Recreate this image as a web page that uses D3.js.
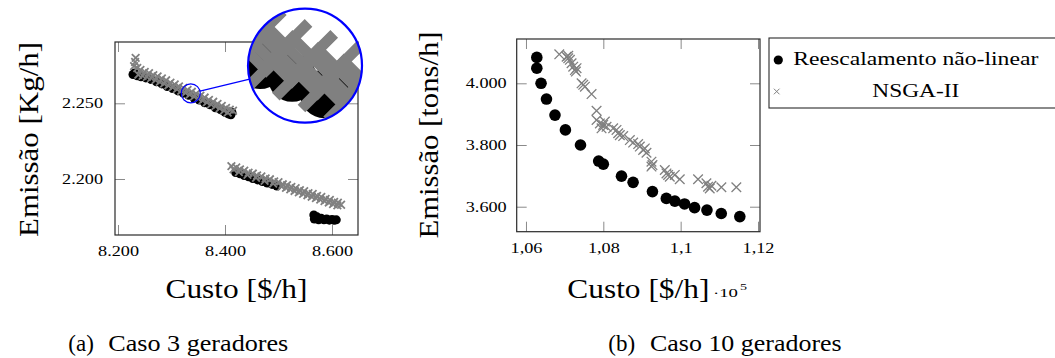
<!DOCTYPE html>
<html><head><meta charset="utf-8">
<script src="https://cdn.jsdelivr.net/npm/d3@7"></script>
<style>
body{margin:0;background:#fff}
svg{display:block}
svg text{font-family:"Liberation Serif","DejaVu Serif","Noto Serif","Times New Roman",serif;fill:#000}
</style>
</head><body><svg id="c" width="1055" height="358"></svg>
<script>
// ---------------- DATA ----------------
// (a) Caso 3 geradores : [Custo $/h, Emissão Kg/h]
const caseA_rescale = [
  [8231,2270.0],[8228,2269.0],[8236,2268.2],[8243,2267.5],[8252,2266.8],[8262,2265.7],[8272,2264.2],
  [8282,2262.8],[8292,2261.1],[8302,2259.8],[8312,2258.2],[8322,2256.7],[8332,2255.3],[8342,2253.5],
  [8352,2252.2],[8362,2250.4],[8372,2249.0],[8382,2247.1],[8392,2245.7],[8400,2244.0],[8406,2243.0],
  [8411,2242.4],[8413,2244.0],
  [8420,2204.3],[8428,2203.4],[8436,2202.3],[8444,2201.5],[8452,2200.3],[8461,2199.4],[8470,2198.3],
  [8479,2197.3],[8488,2196.4],[8497,2195.3],
  [8566,2176.2],[8567,2173.6],[8572,2175.0],[8575,2173.1],[8580,2174.0],[8585,2173.0],[8590,2173.6],
  [8595,2172.8],[8600,2173.3],[8604,2172.7],[8608,2173.0]
];
const caseA_nsga = [
  [8233,2280.0],[8232,2277.3],[8230,2274.6],[8236,2273.3],[8242,2272.1],[8250,2270.8],[8258,2269.9],
  [8266,2268.6],[8274,2267.8],[8282,2266.4],[8290,2265.2],[8298,2263.6],[8306,2262.4],[8314,2261.1],
  [8322,2260.1],[8330,2258.8],[8338,2257.6],[8346,2256.3],[8354,2255.0],[8362,2253.8],[8370,2252.3],
  [8378,2251.0],[8386,2249.6],[8394,2248.2],[8402,2247.0],[8409,2245.8],[8415,2245.1],
  [8238,2268.9],[8246,2268.2],[8254,2267.5],[8262,2266.7],[8270,2265.4],[8278,2264.2],[8286,2263.0],
  [8294,2261.8],[8302,2260.6],[8310,2259.4],[8318,2258.2],[8326,2257.0],[8334,2255.7],[8342,2254.4],
  [8350,2253.1],[8358,2251.9],[8366,2250.6],[8374,2249.3],[8382,2248.1],[8390,2246.7],[8398,2245.2],
  [8405,2243.9],
  [8412,2208.5],[8416,2206.4],[8421,2207.6],[8428,2206.3],[8436,2205.5],[8444,2204.1],[8452,2203.6],
  [8460,2202.3],[8468,2201.7],[8476,2200.4],[8484,2199.8],[8492,2198.4],[8500,2197.9],[8508,2196.5],
  [8516,2195.9],[8524,2194.7],[8532,2193.9],[8540,2192.6],[8548,2192.0],[8556,2190.7],[8564,2190.1],
  [8572,2188.8],[8580,2188.1],[8588,2186.9],[8596,2186.2],[8604,2184.9],[8611,2184.3],[8617,2183.0],
  [8426,2204.6],[8442,2202.7],[8458,2200.8],[8474,2198.8],[8490,2196.9],[8506,2195.0],[8514,2194.1],
  [8522,2193.1],[8530,2192.1],[8538,2191.2],[8546,2190.2],[8554,2189.3],[8562,2188.3],[8570,2187.4],
  [8578,2186.4],[8586,2185.4],[8594,2184.5],[8602,2183.5],[8610,2182.6]
];
const caseA_xTicks = [8200, 8400, 8600];
const caseA_yTicks = [2200, 2250];
const caseA_spyPoint = [8336, 2256.6];

// (b) Caso 10 geradores : [Custo $/h, Emissão tons/h]
const caseB_rescale = [
  [106280,4084],[106280,4049],[106390,4000],[106530,3949],[106750,3897],[107020,3849],[107410,3800],
  [107880,3748],[108000,3738],[108470,3699],[108770,3679],[109270,3649],[109630,3627],[109850,3618],
  [110100,3609],[110360,3597],[110680,3589],[111050,3578],[111530,3568]
];
const caseB_nsga = [
  [106861,4094],[107050,4086],[107093,4081],[107136,4076],[107093,4089],[107179,4065],[107222,4054],
  [107265,4043],[107308,4049],[107291,4038],[107438,4000],[107481,3995],[107524,3989],[107696,3965],
  [107825,3911],[107825,3881],[107911,3870],[107997,3865],[108083,3859],[108040,3876],[107954,3854],
  [108255,3854],[108341,3849],[108384,3838],[108427,3832],[108514,3829],[108686,3816],[108772,3808],
  [108901,3803],[108944,3795],[109030,3784],[109116,3775],[109073,3789],[109245,3746],[109271,3735],
  [109245,3730],[109590,3719],[109633,3708],[109676,3703],[109719,3697],[109848,3703],[109977,3689],
  [110450,3689],[110666,3676],[110709,3665],[110752,3659],[110795,3668],[111053,3663],[111440,3663]
];
const caseB_xTicks = [106000, 108000, 110000, 112000];
const caseB_yTicks = [3600, 3800, 4000];

const legendLabels = ["Reescalamento não-linear", "NSGA-II"];
const xLabel = "Custo [$/h]";
const yLabelA = "Emissão [Kg/h]";
const yLabelB = "Emissão [tons/h]";
const captionTags = ["(a)", "(b)"];
const captionTexts = ["Caso 3 geradores", "Caso 10 geradores"];

// ---------------- DRAWING ----------------
const svg = d3.select("#c");
const loc = d3.formatLocale({decimal: ",", thousands: ".", grouping: [3], currency: ["", ""]});
const fmtThousands = loc.format(",");
const fmtB = v => loc.format(".3~r")(v / 1e5);

function stretch(f) {
  return function() {
    const L = this.getComputedTextLength();
    this.setAttribute("textLength", (L * f).toFixed(2));
    this.setAttribute("lengthAdjust", "spacingAndGlyphs");
  };
}
function fitText(sel, len) {
  sel.attr("textLength", len).attr("lengthAdjust", "spacingAndGlyphs");
}

function frameAxes(g, x, y, xt, yt, xfmt, yfmt, padX, padY) {
  const [x0, x1] = x.range(), [y0, y1] = y.range();
  const style = (a, labels) => {
    a.attr("font-family", null).attr("font-size", null);
    a.select(".domain").remove();
    a.selectAll(".tick line").attr("stroke", "#8a8a8a").attr("stroke-width", 1);
    if (labels) a.selectAll("text").attr("font-size", 14).attr("fill", "#000").each(stretch(1.3));
    else a.selectAll("text").remove();
  };
  g.append("g").attr("transform", `translate(0,${y0})`)
    .call(d3.axisBottom(x).tickValues(xt).tickSizeInner(-10).tickSizeOuter(0).tickPadding(padX).tickFormat(xfmt))
    .call(a => style(a, true));
  g.append("g").attr("transform", `translate(0,${y1})`)
    .call(d3.axisTop(x).tickValues(xt).tickSizeInner(-10).tickSizeOuter(0).tickFormat(() => ""))
    .call(a => style(a, false));
  g.append("g").attr("transform", `translate(${x0},0)`)
    .call(d3.axisLeft(y).tickValues(yt).tickSizeInner(-10).tickSizeOuter(0).tickPadding(padY).tickFormat(yfmt))
    .call(a => style(a, true));
  g.append("g").attr("transform", `translate(${x1},0)`)
    .call(d3.axisRight(y).tickValues(yt).tickSizeInner(-10).tickSizeOuter(0).tickFormat(() => ""))
    .call(a => style(a, false));
  g.append("rect").attr("x", x0).attr("y", y1).attr("width", x1 - x0).attr("height", y0 - y1)
    .attr("fill", "none").attr("stroke", "#2a2a2a").attr("stroke-width", 1.2);
}

function crossPath(cx, cy, h) {
  return `M${cx - h},${cy - h}L${cx + h},${cy + h}M${cx - h},${cy + h}L${cx + h},${cy - h}`;
}
function drawMarks(g, circles, crosses, px, py, r, h, sw) {
  g.append("g").selectAll("circle").data(circles).join("circle")
    .attr("cx", d => px(d[0])).attr("cy", d => py(d[1])).attr("r", r).attr("fill", "#000");
  g.append("g").selectAll("path").data(crosses).join("path")
    .attr("d", d => crossPath(px(d[0]), py(d[1]), h))
    .attr("fill", "none").attr("stroke", "#808080").attr("stroke-width", sw);
}

// ---------- Plot (a) ----------
const xA = d3.scaleLinear().domain([8194.4, 8648.6]).range([115, 358]);
const yA = d3.scaleLinear().domain([2163, 2290.5]).range([235, 42]);
const gA = svg.append("g");
const markA = {r: 4.5, h: 3.8, sw: 1.8};
frameAxes(gA, xA, yA, caseA_xTicks, caseA_yTicks, fmtThousands, fmtThousands, 11, 12);
drawMarks(gA, caseA_rescale, caseA_nsga, xA, yA, markA.r, markA.h, markA.sw);

const midA = (xA.range()[0] + xA.range()[1]) / 2;
svg.append("text").attr("x", midA).attr("y", 298).attr("text-anchor", "middle")
  .attr("font-size", 28).text(xLabel).call(fitText, 142);
svg.append("text").attr("transform", `translate(37.5,139.5) rotate(-90)`).attr("text-anchor", "middle")
  .attr("font-size", 28).text(yLabelA).call(fitText, 195);

// spy / magnifier
const sc = {x: xA(caseA_spyPoint[0]), y: yA(caseA_spyPoint[1]), r: 9.5};
const bc = {x: 305, y: 65.7, r: 57};
const M = bc.r / sc.r;
const ang = Math.atan2(bc.y - sc.y, bc.x - sc.x);
svg.append("circle").attr("cx", sc.x).attr("cy", sc.y).attr("r", sc.r)
  .attr("fill", "none").attr("stroke", "#0000ff").attr("stroke-width", 1.2);
svg.append("line")
  .attr("x1", sc.x + sc.r * Math.cos(ang)).attr("y1", sc.y + sc.r * Math.sin(ang))
  .attr("x2", bc.x - bc.r * Math.cos(ang)).attr("y2", bc.y - bc.r * Math.sin(ang))
  .attr("stroke", "#0000ff").attr("stroke-width", 1.2);
svg.append("defs").append("clipPath").attr("id", "magclip")
  .append("circle").attr("cx", bc.x).attr("cy", bc.y).attr("r", bc.r);
svg.append("circle").attr("cx", bc.x).attr("cy", bc.y).attr("r", bc.r).attr("fill", "#fff");
const gMag = svg.append("g").attr("clip-path", "url(#magclip)");
drawMarks(gMag, caseA_rescale, caseA_nsga,
  v => bc.x + M * (xA(v) - sc.x), v => bc.y + M * (yA(v) - sc.y),
  markA.r * M * 0.9, markA.h * M, markA.sw * M);
svg.append("circle").attr("cx", bc.x).attr("cy", bc.y).attr("r", bc.r)
  .attr("fill", "none").attr("stroke", "#0000ff").attr("stroke-width", 2.2);

// ---------- Plot (b) ----------
const xB = d3.scaleLinear().domain([105760, 112052]).range([516.7, 760]);
const yB = d3.scaleLinear().domain([3519, 4143.6]).range([231.7, 39]);
const gB = svg.append("g");
frameAxes(gB, xB, yB, caseB_xTicks, caseB_yTicks, fmtB, fmtThousands, 11.5, 10);
drawMarks(gB, caseB_rescale, caseB_nsga, xB, yB, 5.8, 4.8, 1.3);

const midB = (xB.range()[0] + xB.range()[1]) / 2;
svg.append("text").attr("x", midB).attr("y", 298).attr("text-anchor", "middle")
  .attr("font-size", 28).text(xLabel).call(fitText, 142);
svg.append("text").attr("x", 713).attr("y", 296.5).attr("font-size", 12).text("·10").call(fitText, 25);
svg.append("text").attr("x", 740).attr("y", 290).attr("font-size", 9).text("5").call(fitText, 7);
svg.append("text").attr("transform", `translate(437.5,135) rotate(-90)`).attr("text-anchor", "middle")
  .attr("font-size", 28).text(yLabelB).call(fitText, 207);

// legend
const lg = svg.append("g");
lg.append("rect").attr("x", 769).attr("y", 38).attr("width", 320).attr("height", 70)
  .attr("fill", "#fff").attr("stroke", "#2a2a2a").attr("stroke-width", 1.1);
lg.append("circle").attr("cx", 778.3).attr("cy", 60).attr("r", 4.6).attr("fill", "#000");
lg.append("path").attr("d", crossPath(776.7, 91.5, 2.8)).attr("stroke", "#808080").attr("stroke-width", 1).attr("fill", "none");
lg.append("text").attr("x", 915.8).attr("y", 65).attr("text-anchor", "middle").attr("font-size", 18)
  .text(legendLabels[0]).call(fitText, 245);
lg.append("text").attr("x", 915.8).attr("y", 96.7).attr("text-anchor", "middle").attr("font-size", 18)
  .text(legendLabels[1]).call(fitText, 87);

// captions
const capTagX = [68.3, 608.3], capTextX = [108.3, 650], capTextLen = [180, 191.7];
captionTags.forEach((t, i) => {
  svg.append("text").attr("x", capTagX[i]).attr("y", 351).attr("font-size", 23).text(t);
  svg.append("text").attr("x", capTextX[i]).attr("y", 351).attr("font-size", 23)
    .text(captionTexts[i]).call(fitText, capTextLen[i]);
});
</script>
</body></html>
